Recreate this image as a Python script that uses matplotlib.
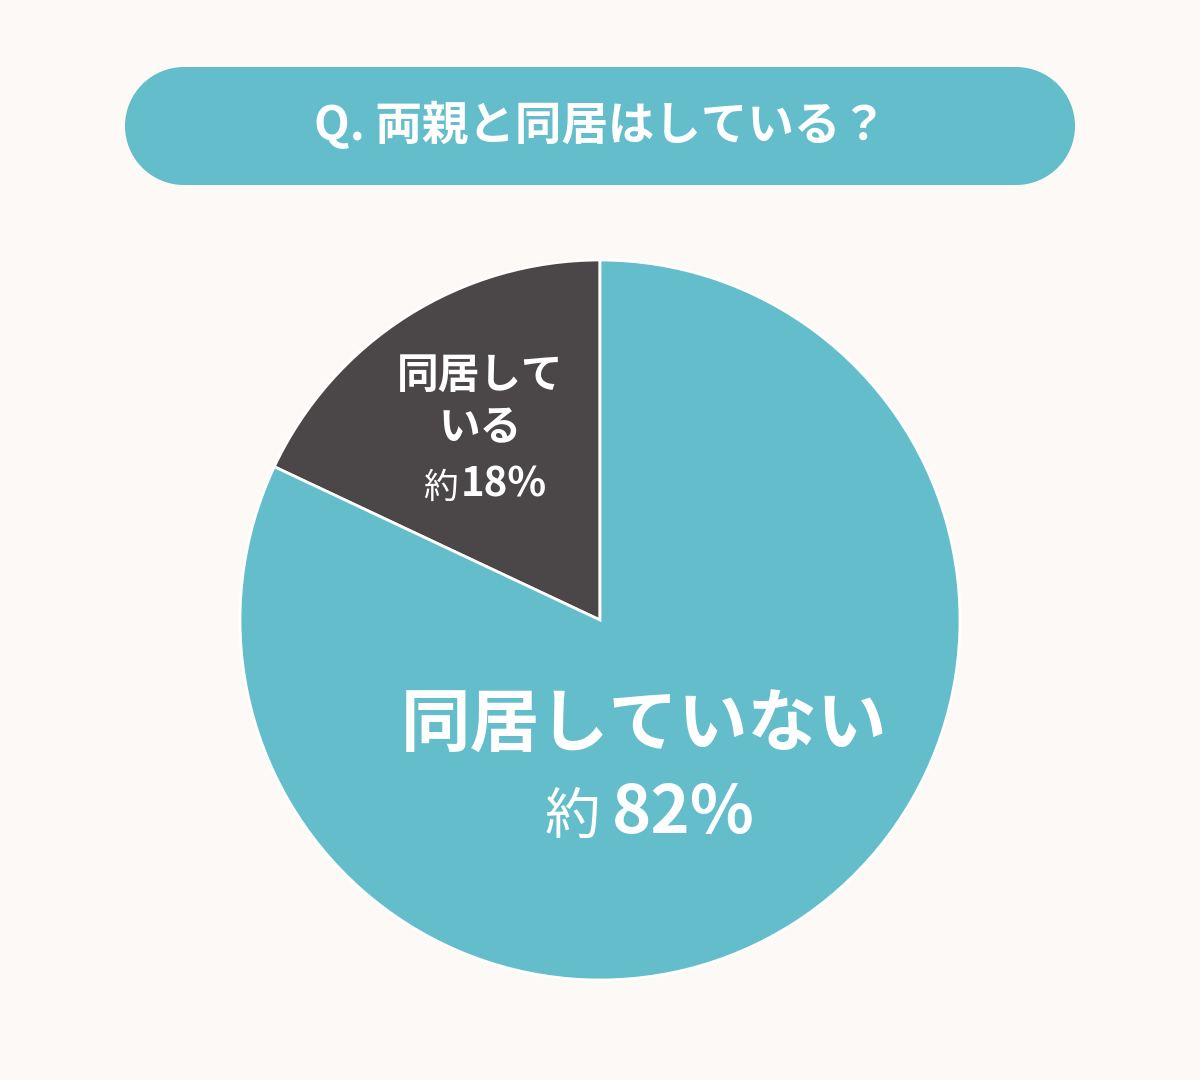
import matplotlib
matplotlib.use("Agg")
import matplotlib.pyplot as plt
from matplotlib.patches import Rectangle, Circle

plt.rcParams['font.family'] = ['Noto Sans CJK JP', 'DejaVu Sans']

title = "Q. 両親と同居はしている？"
labels = ["同居して\nいる", "同居していない"]
values = [18, 82]
approx = "約"
pct_text = ["18%", "82%"]
colors = ["#4B4749", "#63BDCB"]
bg = "#FDF9F6"

W, H = 1200, 1080
fig = plt.figure(figsize=(W / 100, H / 100), dpi=100, facecolor=bg)

# overlay axes in pixel coordinates
ov = fig.add_axes([0, 0, 1, 1])
ov.set_xlim(0, W)
ov.set_ylim(H, 0)
ov.axis("off")
ov.set_zorder(2)

# pill-shaped title banner
x0, x1, y0, y1 = 125, 1075, 67, 185
rr = (y1 - y0) / 2
ov.add_patch(Rectangle((x0 + rr, y0), (x1 - x0) - 2 * rr, y1 - y0,
                       facecolor="#63BDCB", edgecolor="none"))
ov.add_patch(Circle((x0 + rr, (y0 + y1) / 2), rr, facecolor="#63BDCB", edgecolor="none"))
ov.add_patch(Circle((x1 - rr, (y0 + y1) / 2), rr, facecolor="#63BDCB", edgecolor="none"))
ov.text(600, 126, title, ha="center", va="center", color="white",
        fontsize=33.5, fontweight="bold")

# pie
cx, cy, r = 600, 620, 360
pax = fig.add_axes([(cx - r) / W, (H - cy - r) / H, 2 * r / W, 2 * r / H])
pax.set_zorder(1)
pax.pie(values, colors=colors, startangle=90, counterclock=True,
        wedgeprops=dict(edgecolor="white", linewidth=2))
pax.set_aspect("equal")
pax.axis("off")
pax.set_xlim(-1, 1)
pax.set_ylim(-1, 1)

# small wedge labels
ov.text(480, 402, labels[0], ha="center", va="center", color="white",
        fontsize=30, fontweight="bold", linespacing=1.3)
ov.text(458, 488, approx, ha="right", va="center", color="white", fontsize=25)
ov.text(461, 485, pct_text[0], ha="left", va="center", color="white",
        fontsize=29, fontweight="bold")

# big wedge labels
ov.text(644, 727, labels[1], ha="center", va="center", color="white",
        fontsize=50, fontweight="bold")
ov.text(600, 818, approx, ha="right", va="center", color="white", fontsize=40)
ov.text(612, 813, pct_text[1], ha="left", va="center", color="white",
        fontsize=48, fontweight="bold")

fig.savefig("out.png", dpi=100, facecolor=bg)
